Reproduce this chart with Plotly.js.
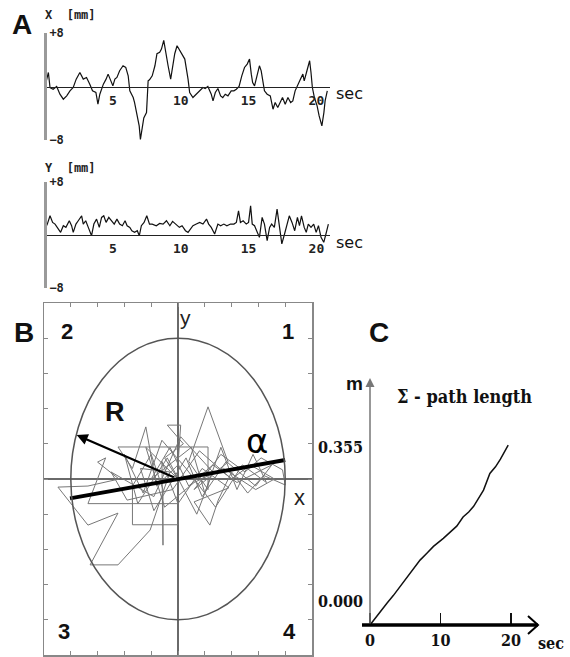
<!DOCTYPE html>
<html><head><meta charset="utf-8">
<script src="https://cdn.plot.ly/plotly-3.0.1.min.js"></script>
<style>html,body{margin:0;padding:0;background:#fff}#chart{width:570px;height:657px}</style>
</head><body><div id="chart"></div>
<script>
// Panel A – X displacement [mm] over time [sec]
const tX = [0,0.25,0.37,0.6,0.86,1.1,1.35,1.6,1.84,2.08,2.3,2.57,2.82,3.06,3.3,3.5,3.75,3.9,4.04,4.3,4.5,4.65,4.8,5.0,5.15,5.3,5.5,5.75,5.95,6.13,6.25,6.5,6.6,6.74,6.94,7.03,7.18,7.28,7.48,7.6,7.7,7.9,8.1,8.25,8.45,8.58,8.75,8.9,9.07,9.26,9.44,9.56,9.73,9.93,10.1,10.3,10.54,10.66,10.9,11.15,11.4,11.64,11.8,12.0,12.25,12.38,12.55,12.74,12.94,13.1,13.28,13.48,13.72,13.92,14.1,14.3,14.5,14.7,14.9,15.07,15.2,15.3,15.44,15.64,15.8,15.93,16.05,16.17,16.37,16.6,16.8,16.96,17.15,17.35,17.5,17.7,17.9,18.1,18.26,18.43,18.63,18.82,19.0,19.1,19.3,19.5,19.6,19.7,19.85,20.05,20.2,20.4,20.55,20.64,20.8];
const vX = [0,2.1,-0.15,-0.4,0,-1.15,-1.9,-1.4,-0.65,-0.15,1.1,2.1,1.1,1.35,0.35,-0.65,-0.9,-2.65,-1.15,0.35,1.1,1.85,1.1,0.1,1.1,1.35,2.35,3.1,2.85,1.6,-0.65,-1.65,-2.4,-3.9,-5.9,-7.9,-5.9,-4.7,-3.9,0.85,1.0,1.6,3.1,4.9,5.1,5.6,6.9,4.9,3.1,1.1,3.1,4.9,6.1,5.4,4.6,4.1,1.1,-0.9,-1.65,-1.15,-0.65,-0.15,-0.3,0,-1.15,-2.15,-0.9,-0.3,-1.4,-1.65,-1.15,-1.4,-0.65,-0.65,-0.4,0,1.6,2.85,3.35,4.1,1.85,0.6,0.1,1.6,3.1,2.35,1.1,-0.65,-1.15,-1.4,-3.4,-2.4,-3.15,-2.15,-1.65,-2.65,-1.65,-2.4,-2.15,-0.65,0.35,1.1,1.85,0.85,2.35,3.85,2.1,-0.15,-1.65,-2.9,-4.4,-5.9,-3.9,-2.15,-0.65];
// Panel A – Y displacement [mm]
const tY = [0,0.17,0.37,0.56,0.74,0.98,1.15,1.35,1.54,1.79,1.96,2.08,2.28,2.45,2.7,2.82,3.0,3.19,3.43,3.6,3.8,4.0,4.17,4.33,4.5,4.7,4.9,5.1,5.3,5.5,5.7,5.9,6.05,6.25,6.4,6.6,6.8,6.95,7.1,7.3,7.5,7.7,7.9,8.2,8.45,8.7,8.95,9.2,9.4,9.6,9.9,10.1,10.35,10.54,10.7,10.9,11.15,11.4,11.64,11.9,12.06,12.25,12.5,12.74,12.94,13.18,13.4,13.67,13.92,14.1,14.26,14.4,14.6,14.83,15.0,15.15,15.27,15.44,15.64,15.8,16.0,16.17,16.37,16.55,16.7,16.9,17.1,17.27,17.45,17.65,17.84,18.0,18.2,18.4,18.6,18.75,18.9,19.1,19.25,19.4,19.6,19.8,19.98,20.15,20.34,20.54,20.7,20.88];
const vY = [0.9,1.65,2.9,1.9,1.65,0.9,0.4,1.4,1.15,2.15,1.4,0.4,1.65,2.15,2.9,1.65,2.15,1.15,-0.1,1.65,2.4,1.15,2.65,2.9,1.9,2.65,2.15,1.65,2.4,1.65,1.4,2.15,1.4,1.15,0.65,0.4,0.65,-0.1,1.4,1.9,2.9,1.65,1.65,1.4,1.75,1.65,2.15,1.4,2.05,1.65,1.15,1.4,0.65,0.4,0.9,1.4,1.65,1.9,1.65,2.4,1.65,1.15,0.15,1.65,1.4,1.65,1.4,1.65,1.65,1.9,3.65,1.9,2.15,1.65,1.9,4.4,1.65,1.4,0.4,-0.35,2.65,1.65,-0.85,1.15,1.65,1.15,3.9,1.15,-1.35,0.15,1.65,2.9,1.9,0.65,2.65,1.4,2.9,1.15,0.4,1.65,1.15,1.65,0.4,1.4,-0.35,-1.1,0.15,1.65];
const ticksA = [5,10,15,20];
const rangeLabelsA = ['\u22128','+8'];

// Panel B – stabilogram path (normalised units, ellipse radius 4)
const bx = [0.0,-0.5,0.2,-0.4,0.1,0.0,-0.8,-1.2,-1.7,-2.24,1.12,1.12,0.4,1.12,1.87,0.6,1.6,2.5,3.1,3.9,4.0,3.2,2.6,2.0,1.5,1.19,0.6,1.9,0.9,0.0,-0.6,-0.56,-0.56,-1.0,-1.7,-1.7,0.0,0.0,-3.36,-2.7,-3.0,-2.2,-3.36,-4.48,-3.36,-2.24,-3.28,-2.24,-1.04,-0.3,-1.4,-0.9,0.3,0.9,1.8,2.9,3.5,2.2,1.3,0.4,-0.3,-1.0,
  0.5,1.0,1.6,2.2,2.8,3.3,2.4,1.4,0.3,-0.6,-1.3,-2.0,-1.5,-0.4,0.7,1.3,0.1,-0.9,-2.5,-1.9,-0.2,0.8,2.0,2.7,3.6,2.9,1.7,0.6,-0.5,-1.2,0.0];
const by = [0.0,0.6,1.0,1.53,1.53,0.4,-0.2,1.48,0.3,0.91,0.91,-0.3,0.5,2.05,0.48,-0.3,0.7,0.2,0.6,0.26,-0.17,0.1,-0.4,0.2,-0.6,-1.31,-0.65,-0.25,0.3,-0.7,0.5,-1.88,-0.3,0.7,-0.2,-1.3,-1.3,-0.7,-0.7,0.6,0.48,0.0,-0.2,-0.23,-1.31,-0.97,-2.44,-2.44,-1.45,0.2,0.3,-0.9,0.6,-0.5,0.5,-0.2,0.4,-0.1,0.4,-0.2,0.9,0.0,
  0.9,-0.4,0.9,-0.3,0.7,-0.1,0.4,-0.8,0.3,1.1,-0.4,0.7,-0.7,0.6,-1.0,0.2,1.2,-0.5,0.2,-0.6,-0.3,0.8,0.0,0.4,0.0,-0.3,0.3,-0.1,-0.8,0.9,0.0];
const bTicks = [-4,-3,-2,-1,0,1,2,3,4];
const ellipseR = 4;
const alphaX = [-4.03, 4.0];
const alphaY = [-0.55, 0.54];
const rFrom = [-0.1, 0.03];
const rTo = [-3.78, 1.25];
const quadrants = ['1','2','3','4'];

// Panel C – cumulative path length [m]
const tC = [0,1.2,2.4,3.3,4.3,5.7,7.1,8.1,9.0,10.4,11.4,12.3,13.2,14.0,14.7,15.4,16.1,17.0,17.8,18.5,19.1,19.6];
const mC = [0,0.022,0.043,0.058,0.076,0.102,0.128,0.142,0.155,0.171,0.184,0.195,0.213,0.223,0.234,0.250,0.266,0.299,0.312,0.327,0.342,0.355];
const ticksC = [0,10,20];
const labelsC = ['0.000','0.355'];

const W = 570, H = 657;
const PX = x => x / W, PY = y => 1 - y / H;

const monoB = {family:'DejaVu Sans Mono', size:13, weight:'bold', color:'#222'};
const monoS = {family:'DejaVu Sans Mono', size:12, weight:'bold', color:'#222'};
const serifFam = 'DejaVu Serif Condensed, Liberation Serif, serif';
const serifB = {family:serifFam, size:16, weight:'bold', color:'#111'};
const sansB = (s) => ({family:'Liberation Sans, Arial, sans-serif', size:s, weight:'bold', color:'#111'});

function ann(text, px, py, font, extra){
  return Object.assign({text:text, x:PX(px), y:PY(py), xref:'paper', yref:'paper', xanchor:'center', yanchor:'middle', showarrow:false, font:font}, extra || {});
}

const traces = [
  {x:tX, y:vX, xaxis:'x', yaxis:'y', mode:'lines', line:{color:'#111', width:1.2}},
  {x:tY, y:vY, xaxis:'x2', yaxis:'y2', mode:'lines', line:{color:'#111', width:1.2}},
  {x:bx, y:by, xaxis:'x3', yaxis:'y3', mode:'lines', line:{color:'#777', width:1}},
  {x:alphaX, y:alphaY, xaxis:'x3', yaxis:'y3', mode:'lines', line:{color:'#000', width:4}},
  {x:tC, y:mC, xaxis:'x4', yaxis:'y4', mode:'lines', line:{color:'#111', width:1.5}}
];

function aX(zeroPy, top, bot){
  return {
    x:{domain:[PX(45),PX(330)], range:[0,21], anchor:'free', position:PY(zeroPy), showline:true, linecolor:'#222', linewidth:1,
       tickvals:ticksA, ticks:'', showgrid:false, zeroline:false, tickfont:monoB, ticklabelstandoff:1, fixedrange:true},
    y:{domain:[PY(bot),PY(top)], range:[-8,8], anchor:'free', position:PX(45), side:'right', showline:true, linecolor:'#9a9a9a', linewidth:3,
       tickvals:[-8,8], ticktext:rangeLabelsA, ticks:'inside', ticklen:5, tickcolor:'#888', tickwidth:1.5, showgrid:false, zeroline:false,
       tickfont:monoS, fixedrange:true}
  };
}
const a1 = aX(87, 33, 140), a2 = aX(235, 182, 288);

const layout = {
  width:W, height:H, margin:{l:0,r:0,t:0,b:0}, paper_bgcolor:'#fff', plot_bgcolor:'rgba(0,0,0,0)', showlegend:false,
  xaxis:a1.x, yaxis:a1.y, xaxis2:a2.x, yaxis2:a2.y,
  xaxis3:{domain:[PX(44),PX(312)], range:[-5,5], anchor:'y3', showline:true, mirror:'ticks', linecolor:'#888', linewidth:1.5,
    ticks:'inside', tickvals:bTicks, ticklen:4, tickcolor:'#888', showticklabels:false, showgrid:false,
    zeroline:true, zerolinecolor:'#6a6a6a', zerolinewidth:1.5},
  yaxis3:{domain:[PY(655),PY(303)], range:[-5,5], anchor:'x3', showline:true, mirror:'ticks', linecolor:'#888', linewidth:1.5,
    ticks:'inside', tickvals:bTicks, ticklen:4, tickcolor:'#888', showticklabels:false, showgrid:false,
    zeroline:true, zerolinecolor:'#6a6a6a', zerolinewidth:1.5},
  xaxis4:{domain:[PX(362),PX(545)], range:[-1.135,24.82], anchor:'free', position:PY(625), showline:false,
    ticks:'inside', ticklen:12, tickwidth:1.2, tickcolor:'#111', tickvals:ticksC, tickfont:serifB, ticklabelstandoff:4,
    showgrid:false, zeroline:false},
  yaxis4:{domain:[PY(632),PY(375)], range:[-0.0138,0.4931], anchor:'x4', visible:false},
  shapes:[
    {type:'circle', xref:'x3', yref:'y3', x0:-ellipseR, x1:ellipseR, y0:-ellipseR, y1:ellipseR, line:{color:'#555', width:1.5}},
    {type:'line', xref:'x4', yref:'y4', x0:-1.135, x1:23.8, y0:0, y1:0, line:{color:'#000', width:3.5}},
    {type:'path', xref:'paper', yref:'paper', path:`M ${PX(528)},${PY(616)} L ${PX(538)},${PY(625)} L ${PX(528)},${PY(634)}`, line:{color:'#000', width:2}}
  ],
  annotations:[
    ann('A', 22, 24, sansB(28)),
    ann('B', 24, 332, sansB(28)),
    ann('C', 379, 332, sansB(28)),
    ann('X  [mm]', 43, 15, monoS, {xanchor:'left'}),
    ann('Y  [mm]', 43, 168, monoS, {xanchor:'left'}),
    ann('sec', 334, 93, {family:'DejaVu Sans', size:16, color:'#111'}, {xanchor:'left'}),
    ann('sec', 334, 243, {family:'DejaVu Sans', size:16, color:'#111'}, {xanchor:'left'}),
    ann(quadrants[1], 67, 331, sansB(22)),
    ann(quadrants[0], 288, 331, sansB(22)),
    ann(quadrants[2], 64, 631, sansB(22)),
    ann(quadrants[3], 289, 631, sansB(22)),
    ann('y', 185, 317, {family:'Liberation Sans, Arial', size:21, color:'#222'}),
    ann('x', 299, 497, {family:'Liberation Sans, Arial', size:22, color:'#222'}),
    ann('R', 115, 412, sansB(27)),
    ann('\u03b1', 257, 441, {family:'DejaVu Sans', size:34, color:'#000'}),
    {text:'', x:rTo[0], y:rTo[1], ax:rFrom[0], ay:rFrom[1], xref:'x3', yref:'y3', axref:'x3', ayref:'y3', showarrow:true, arrowhead:2, arrowsize:1, arrowwidth:2.2, arrowcolor:'#000'},
    {text:'', x:0, y:0.487, ax:0, ay:0, xref:'x4', yref:'y4', axref:'x4', ayref:'y4', showarrow:true, arrowhead:2, arrowsize:1.2, arrowwidth:1.5, arrowcolor:'#777'},
    ann('m', 354, 383, sansB(19)),
    ann('\u03a3 - path length', 464, 396, {family:serifFam, size:18, weight:'bold', color:'#111'}),
    ann(labelsC[1], 365, 447, serifB, {xanchor:'right'}),
    ann(labelsC[0], 365, 601, serifB, {xanchor:'right'}),
    ann('sec', 551, 643, serifB)
  ]
};

Plotly.newPlot('chart', traces, layout, {staticPlot:true, displayModeBar:false});
</script></body></html>
